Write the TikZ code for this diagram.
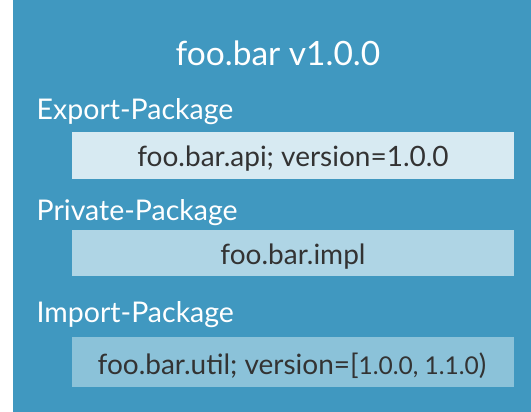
\documentclass[tikz,border=0pt]{standalone}
\usepackage{fontspec}
\setmainfont{Lato}
\definecolor{bgblue}{HTML}{4098C0}
\definecolor{boxa}{HTML}{D7EAF2}
\definecolor{boxb}{HTML}{AFD5E5}
\definecolor{boxc}{HTML}{8BC2D9}
\definecolor{darktext}{HTML}{333333}
\begin{document}
\begin{tikzpicture}[x=1pt,y=-1pt,
  lbl/.style={anchor=base west, text=white, font=\fontsize{28.5}{32}\selectfont, inner sep=0pt},
  pkgtext/.style={anchor=base, text=darktext, font=\fontsize{28}{32}\selectfont, inner sep=0pt}]
\useasboundingbox (0,0) rectangle (531,412);
\fill[bgblue] (13,0) rectangle (531,412);
\node[anchor=base, text=white, font=\fontsize{33.5}{38}\selectfont, inner sep=0pt] (title) at (278,66) {foo.bar v1.0.0};
\node[lbl] (exp) at (36.5,120) {Export-Package};
\fill[boxa] (72,132) rectangle (514,179);
\node[pkgtext] (api) at (293,167) {foo.bar.api; version=1.0.0};
\node[lbl] (priv) at (36.5,220.5) {Private-Package};
\fill[boxb] (72,230) rectangle (514,276);
\node[pkgtext] (impl) at (293,264) {foo.bar.impl};
\node[lbl] (imp) at (36.5,322.5) {Import-Package};
\fill[boxc] (72,337) rectangle (514,387);
\node[pkgtext] (util) at (292,374) {foo.bar.util; version=[{\fontsize{24.5}{28}\selectfont 1.0.0, 1.1.0})};
\end{tikzpicture}
\end{document}
